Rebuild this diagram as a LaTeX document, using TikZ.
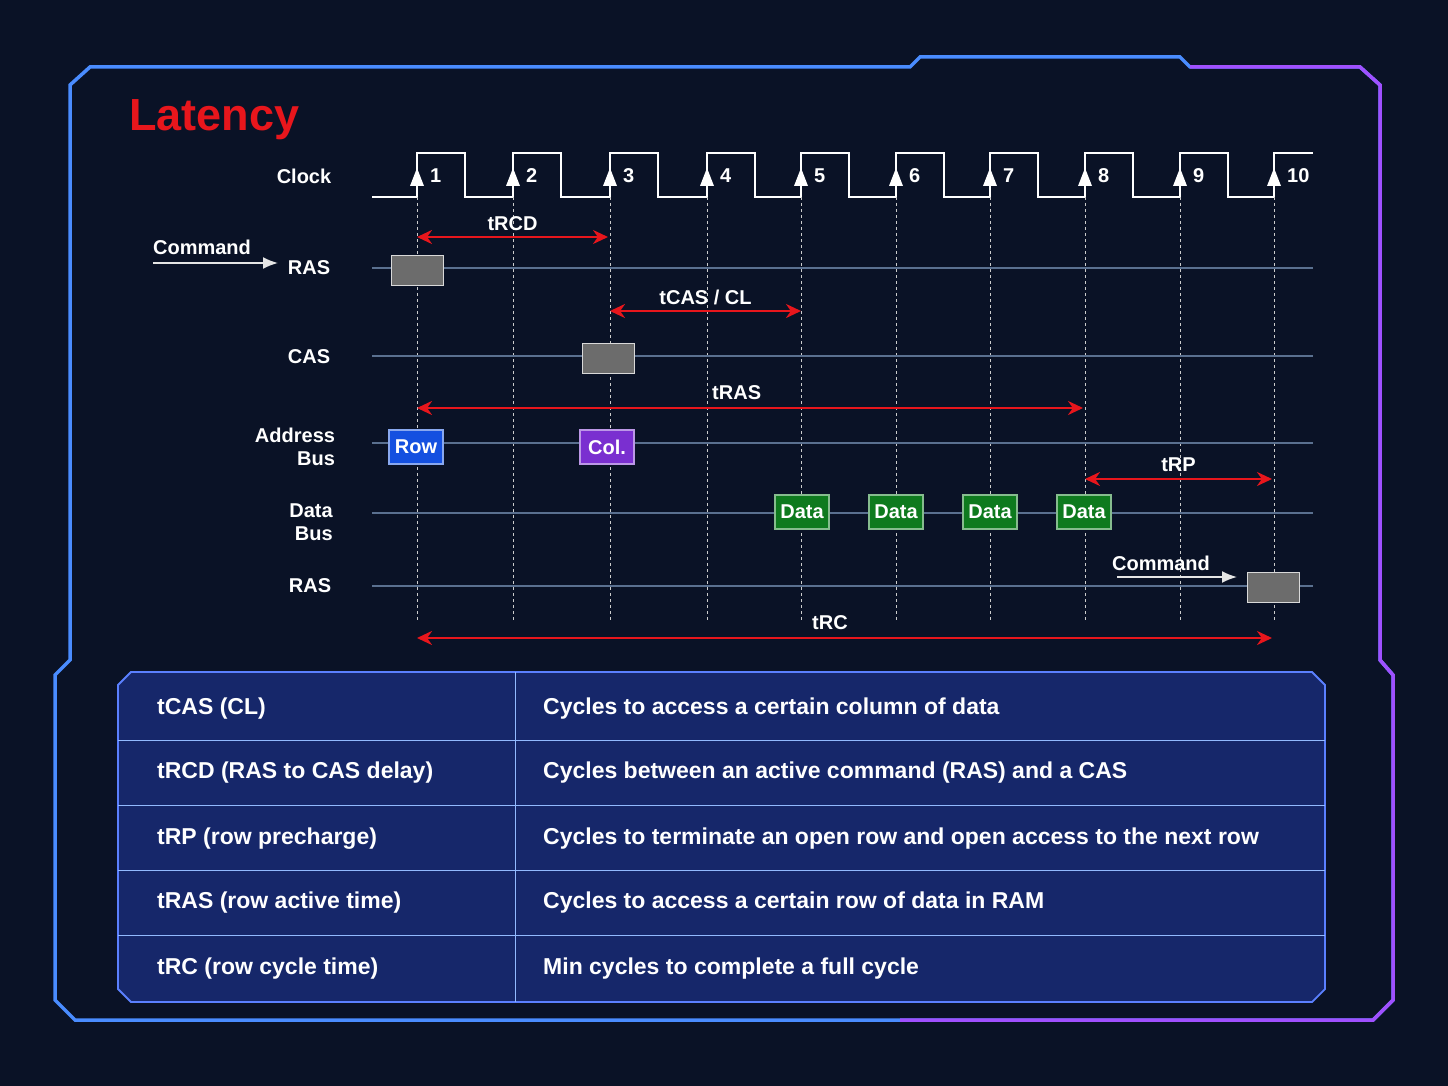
\documentclass[tikz,border=0pt]{standalone}
\usepackage{fontspec}
\setmainfont{Liberation Sans}
\usetikzlibrary{arrows.meta}
\definecolor{bg}{HTML}{0A1226}
\definecolor{sig}{HTML}{5A7090}
\definecolor{frame}{HTML}{4A8CFF}
\definecolor{frameR}{HTML}{A050FF}
\definecolor{tab}{HTML}{16276A}
\definecolor{redA}{HTML}{E8161C}
\definecolor{rowc}{HTML}{1450E0}
\definecolor{colc}{HTML}{7A2FD0}
\definecolor{datac}{HTML}{0E7A1E}
\tikzset{
 lbl/.style={text=white,font=\bfseries\fontsize{20}{23}\selectfont,inner sep=1pt},
 sigline/.style={sig,line width=1.4pt},
 tick/.style={white!60!gray,dashed,line width=1pt},
 dim/.style={redA,line width=2.6pt,{Stealth[length=15pt,width=14pt]}-{Stealth[length=15pt,width=14pt]}},
 gbox/.style={draw=white!70!gray,fill=gray!85!black,minimum width=52pt,minimum height=30pt,line width=1pt},
 cbox/.style={lbl,draw=#1!50!white,fill=#1,minimum width=54pt,minimum height=34pt,line width=1.4pt},
 cmdarr/.style={white!80!gray,line width=1.8pt,-{Latex[length=15pt,width=12pt]}},
 tabtxt/.style={text=white,font=\bfseries\fontsize{23}{26}\selectfont,anchor=west,inner sep=0pt},
}
\begin{document}
\begin{tikzpicture}[x=1pt,y=-1pt]
\useasboundingbox (0,0) rectangle (1448,1086);
\fill[bg] (0,0) rectangle (1448,1086);
% frame
\draw[frame,line width=3.5pt] (70,660) -- (70,85) -- (90,67) -- (910,67) -- (920,57) -- (1180,57) -- (1190,67) -- (1360,67) -- (1380,85) -- (1380,660) -- (1393,675) -- (1393,1000) -- (1373,1020) -- (75,1020) -- (55,1000) -- (55,675) -- cycle;
\draw[frameR,line width=3.5pt] (1190,67) -- (1360,67) -- (1380,85) -- (1380,660) -- (1393,675) -- (1393,1000) -- (1373,1020) -- (900,1020);
% title
\node[anchor=west,text=redA,font=\bfseries\fontsize{45}{50}\selectfont,inner sep=0pt] (title) at (129,120) {Latency};
% clock
\draw[white,line width=1.4pt] (372,197) -- (417,197);
\foreach \x/\nx in {417/513,513/610,610/707,707/801,801/896,896/990,990/1085,1085/1180,1180/1274}
 \draw[white,line width=1.4pt] (\x,197) -- (\x,153) -- (\x+48,153) -- (\x+48,197) -- (\nx,197);
\draw[white,line width=1.4pt] (1274,197) -- (1274,153) -- (1313,153);
\foreach \x [count=\i] in {417,513,610,707,801,896,990,1085,1180,1274} {
 \draw[tick] (\x,197) -- (\x,620);
 \fill[white] (\x-7,186) -- (\x+7,186) -- (\x,168) -- cycle;
 \node[lbl,anchor=west] (n\i) at (\x+12,176) {\i};
}
% signal lines
\foreach \y in {268,356,443,513,586} \draw[sigline] (372,\y) -- (1313,\y);
% labels
\node[lbl] (lclk) at (304,176) {Clock};
\node[lbl] (lras) at (309,268) {RAS};
\node[lbl] (lcas) at (309,357) {CAS};
\node[lbl,align=right] (laddr) at (295,447) {Address\\ Bus};
\node[lbl,align=right] (ldata) at (311,522) {Data\\ Bus};
\node[lbl] (lras2) at (310,586) {RAS};
\node[lbl] (cmd1) at (202,247) {Command};
\coordinate (c1a) at (153,263); \coordinate (c1b) at (278,263);
\draw[cmdarr] (c1a) -- (c1b);
\node[lbl] (cmd2) at (1161,563) {Command};
\coordinate (c2a) at (1117,577); \coordinate (c2b) at (1237,577);
\draw[cmdarr] (c2a) -- (c2b);
% boxes
\node[gbox] (b1) at (417,270) {};
\node[gbox] (b2) at (608,358) {};
\node[gbox] (b3) at (1273,587) {};
\node[cbox=rowc] (row) at (416,447) {Row};
\node[cbox=colc] (col) at (607,447) {Col.};
\foreach \x/\n in {802/d1,896/d2,990/d3,1084/d4}
 \node[cbox=datac] (\n) at (\x,512) {Data};
% dimensions
\coordinate (r1) at (417,237); \coordinate (r2) at (608,237);
\draw[dim] (r1) -- (r2) node[lbl,midway,above=4pt] {tRCD};
\coordinate (c1) at (610,311); \coordinate (c2) at (801,311);
\draw[dim] (c1) -- (c2) node[lbl,midway,above=4pt] {tCAS / CL};
\coordinate (a1) at (417,408); \coordinate (a2) at (1083,408);
\draw[dim] (a1) -- (a2) node[lbl,pos=0.48,above=6pt] {tRAS};
\coordinate (p1) at (1085,479); \coordinate (p2) at (1272,479);
\draw[dim] (p1) -- (p2) node[lbl,midway,above=5pt] {tRP};
\coordinate (t1) at (417,638); \coordinate (t2) at (1272,638);
\draw[dim] (t1) -- (t2) node[lbl,pos=0.483,above=6pt] {tRC};
% table
\draw[frame!80!frameR,line width=1.8pt,fill=tab] (118,685) -- (131,672) -- (1312,672) -- (1325,685) -- (1325,989) -- (1312,1002) -- (131,1002) -- (118,989) -- cycle;
\foreach \y in {740,805,870,935} \draw[frame!60!white,line width=0.8pt] (118,\y) -- (1325,\y);
\draw[frame!60!white,line width=0.8pt] (515,672) -- (515,1002);
\foreach \y/\a/\b in {709/tCAS (CL)/Cycles to access a certain column of data,
 773/tRCD (RAS to CAS delay)/Cycles between an active command (RAS) and a CAS,
 839/tRP (row precharge)/Cycles to terminate an open row and open access to the next row,
 903/tRAS (row active time)/Cycles to access a certain row of data in RAM,
 969/tRC (row cycle time)/Min cycles to complete a full cycle} {
 \node[tabtxt] at (157,\y) {\a};
 \node[tabtxt] at (543,\y) {\b};
}
\end{tikzpicture}
\end{document}
